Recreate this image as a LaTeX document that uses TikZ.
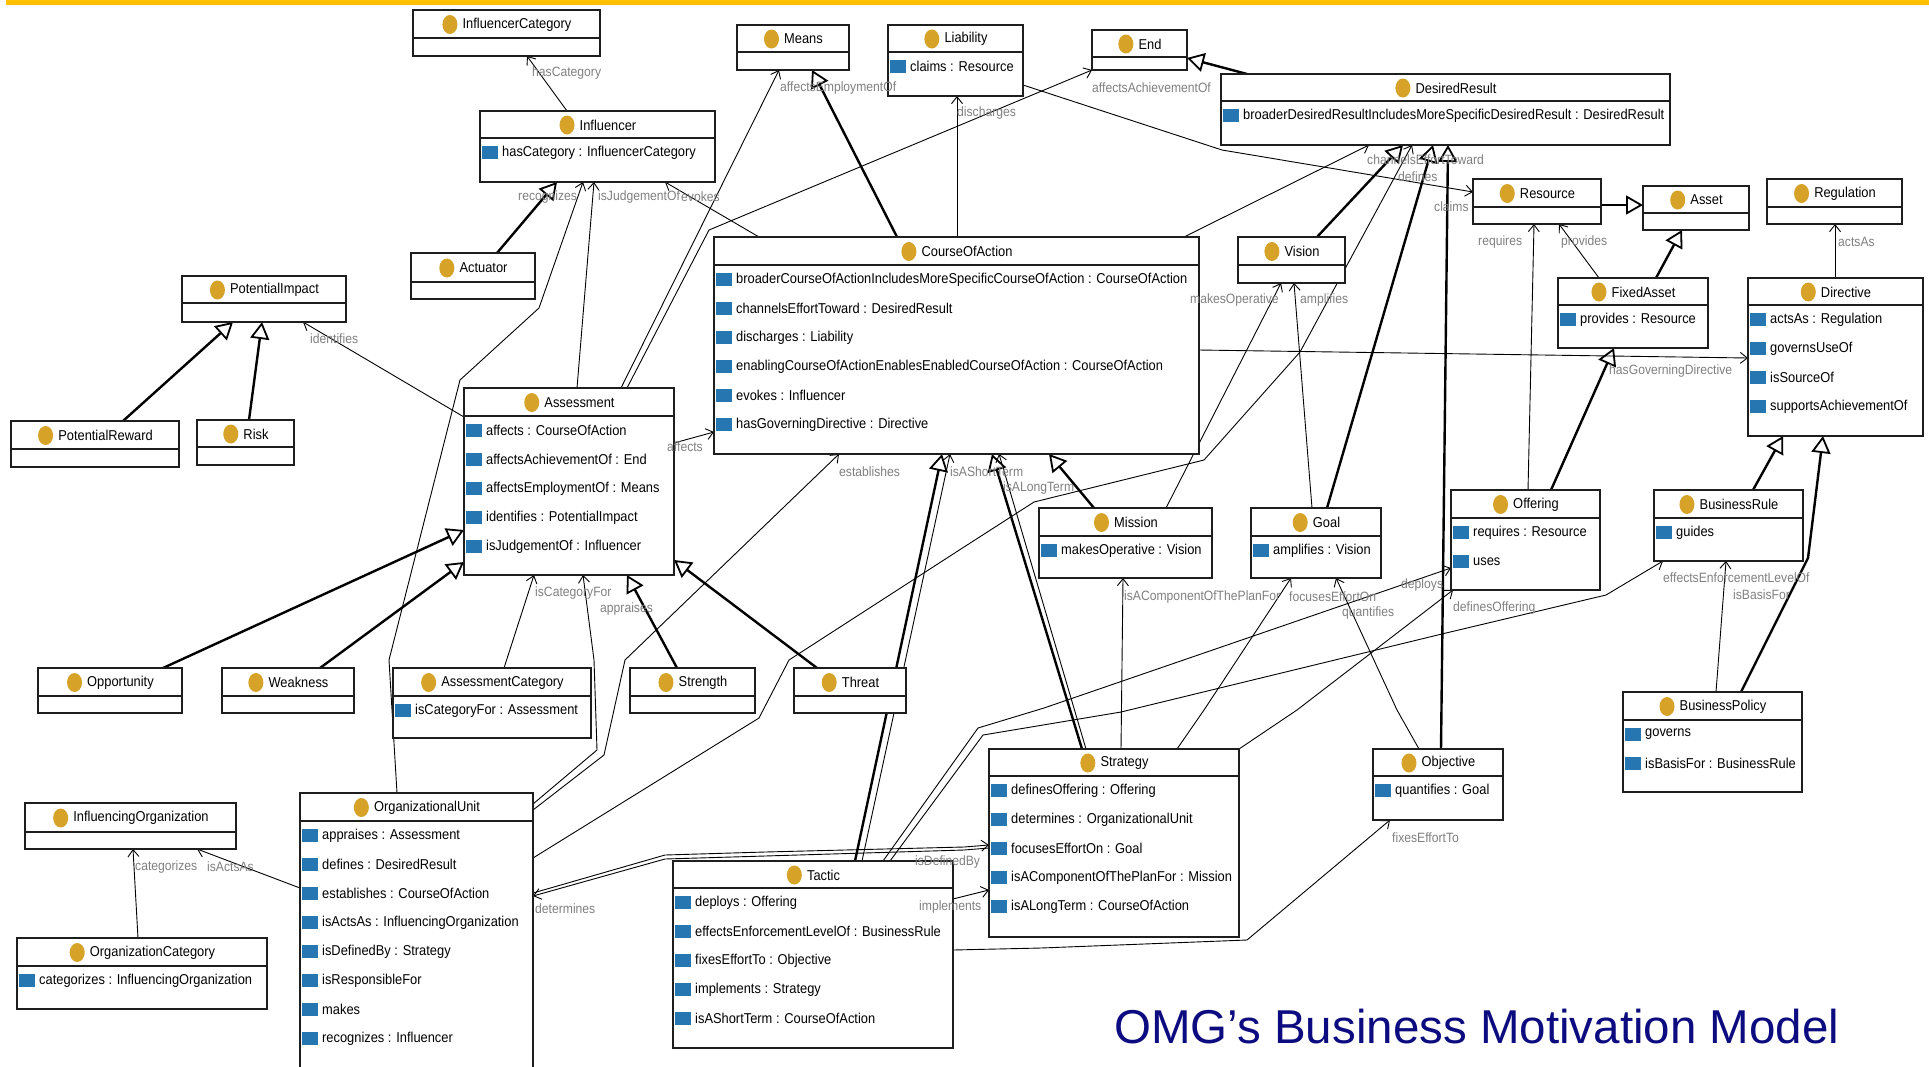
\documentclass[tikz,border=0pt]{standalone}
\usepackage{fontspec}
\setmainfont{Liberation Sans}
\newfontfamily\umlf[FakeStretch=0.9]{Liberation Sans}
\usetikzlibrary{arrows.meta}
\pgfdeclarelayer{back}
\pgfdeclarelayer{conn}
\pgfsetlayers{back,conn,main}
\definecolor{goldc}{RGB}{214,162,40}
\definecolor{attrblue}{RGB}{38,118,178}
\definecolor{lblgray}{RGB}{128,128,128}
\definecolor{navyc}{RGB}{12,12,128}
\definecolor{bandc}{RGB}{255,192,0}
\definecolor{edgec}{RGB}{30,30,30}
\tikzset{
  clsbox/.style={draw=edgec, line width=1.4pt, fill=white, inner sep=0pt, outer sep=0pt},
  clsedge/.style={draw=edgec, line width=1.4pt},
  clsname/.style={font=\umlf\fontsize{14.3}{16}\selectfont, inner sep=0pt},
  attrtext/.style={font=\umlf\fontsize{14.3}{16}\selectfont, inner sep=0pt, anchor=west},
  lbl/.style={font=\umlf\fontsize{13.5}{15}\selectfont, text=lblgray, inner sep=0pt, anchor=west},
  gen/.style={draw=black, line width=2.4pt, line join=round, -{Triangle[length=17pt,width=19pt,fill=white,line width=1.8pt]}},
  assoc/.style={draw=black, line width=0.9pt, line join=round, -{Straight Barb[length=7pt,width=11pt,line width=0.9pt]}},
}
\newcommand\ucls[7]{%
  \pgfmathsetmacro\uw{#4-#2}\pgfmathsetmacro\uh{#5-#3}%
  \pgfmathsetmacro\ucx{(#2+#4)/2+10.5}\pgfmathsetmacro\ucy{(#3+#6)/2+0.5}%
  \node[clsbox, minimum width=\uw pt, minimum height=\uh pt, anchor=north west] (#1) at (#2,#3) {};%
  \draw[clsedge] (#2,#6) -- (#4,#6);%
  \node[clsname] (#1-n) at (\ucx,\ucy) {#7};%
  \fill[goldc] ([xshift=-12.5pt]#1-n.west) ellipse (7.5pt and 9.5pt);%
}
\newcommand\uattr[5]{%
  \pgfmathsetmacro\uay{#3+14.5+29*#4}%
  \fill[attrblue] (#2+1.5,\uay-6.5) rectangle (#2+18,\uay+6.5);%
  \node[attrtext] (#1-a#4) at (#2+22,\uay) {#5};%
}
\begin{document}
\begin{tikzpicture}[x=1pt,y=-1pt]
\path[use as bounding box] (0,0) rectangle (1929,1066);
\clip (0,0) rectangle (1929,1066);
\begin{pgfonlayer}{back}
\fill[white] (0,0) rectangle (1929,1066);
\fill[bandc] (6,0) rectangle (1929,4.5);
\end{pgfonlayer}

% ---------- classes
\ucls{IC}{413}{10}{600}{56}{38}{InfluencerCategory}
\ucls{Means}{737}{25}{849}{70}{52}{Means}
\ucls{Liability}{888}{25}{1023}{96}{52}{Liability}
\ucls{End}{1092}{30}{1187}{70}{57}{End}
\ucls{DR}{1221}{74}{1670}{145}{101}{DesiredResult}
\ucls{Influencer}{480}{111}{715}{182}{138}{Influencer}
\ucls{Actuator}{411}{253}{535}{299}{282}{Actuator}
\ucls{PotentialImpact}{182}{276}{346}{322}{303}{PotentialImpact}
\ucls{PotentialReward}{11}{421}{179}{467}{449}{PotentialReward}
\ucls{Risk}{197}{420}{294}{465}{447}{Risk}
\ucls{Assessment}{464}{388}{674}{575}{416}{Assessment}
\ucls{CoA}{714}{237}{1199}{454}{265}{CourseOfAction}
\ucls{Vision}{1238}{237}{1345}{283}{265}{Vision}
\ucls{Resource}{1473}{179}{1601}{224}{207}{Resource}
\ucls{Asset}{1643}{186}{1749}{230}{213}{Asset}
\ucls{Regulation}{1767}{179}{1902}{224}{207}{Regulation}
\ucls{FixedAsset}{1558}{278}{1708}{348}{305}{FixedAsset}
\ucls{Directive}{1748}{278}{1923}{436}{305}{Directive}
\ucls{Mission}{1039}{508}{1212}{578}{536}{Mission}
\ucls{Goal}{1251}{508}{1381}{578}{536}{Goal}
\ucls{Offering}{1451}{490}{1600}{590}{518}{Offering}
\ucls{BR}{1654}{490}{1803}{561}{518}{BusinessRule}
\ucls{BP}{1623}{692}{1802}{792}{720}{BusinessPolicy}
\ucls{Objective}{1373}{749}{1503}{820}{776}{Objective}
\ucls{Strategy}{989}{749}{1239}{937}{776}{Strategy}
\ucls{Tactic}{673}{861}{953}{1048}{888}{Tactic}
\ucls{OU}{300}{793}{533}{1080}{821}{OrganizationalUnit}
\ucls{IO}{25}{803}{236}{849}{832}{InfluencingOrganization}
\ucls{OC}{17}{938}{267}{1009}{966}{OrganizationCategory}
\ucls{Opportunity}{38}{668}{182}{713}{696}{Opportunity}
\ucls{Weakness}{222}{668}{354}{713}{696}{Weakness}
\ucls{AC}{393}{668}{591}{738}{696}{AssessmentCategory}
\ucls{Strength}{630}{668}{755}{713}{696}{Strength}
\ucls{Threat}{794}{668}{906}{713}{696}{Threat}

% ---------- attributes
\uattr{Liability}{888}{52}{0}{claims : Resource}
\uattr{DR}{1221}{101}{0}{broaderDesiredResultIncludesMoreSpecificDesiredResult : DesiredResult}
\uattr{Influencer}{480}{138}{0}{hasCategory : InfluencerCategory}
\uattr{Assessment}{464}{416}{0}{affects : CourseOfAction}
\uattr{Assessment}{464}{416}{1}{affectsAchievementOf : End}
\uattr{Assessment}{464}{416}{2}{affectsEmploymentOf : Means}
\uattr{Assessment}{464}{416}{3}{identifies : PotentialImpact}
\uattr{Assessment}{464}{416}{4}{isJudgementOf : Influencer}
\uattr{CoA}{714}{265}{0}{broaderCourseOfActionIncludesMoreSpecificCourseOfAction : CourseOfAction}
\uattr{CoA}{714}{265}{1}{channelsEffortToward : DesiredResult}
\uattr{CoA}{714}{265}{2}{discharges : Liability}
\uattr{CoA}{714}{265}{3}{enablingCourseOfActionEnablesEnabledCourseOfAction : CourseOfAction}
\uattr{CoA}{714}{265}{4}{evokes : Influencer}
\uattr{CoA}{714}{265}{5}{hasGoverningDirective : Directive}
\uattr{FixedAsset}{1558}{305}{0}{provides : Resource}
\uattr{Directive}{1748}{305}{0}{actsAs : Regulation}
\uattr{Directive}{1748}{305}{1}{governsUseOf}
\uattr{Directive}{1748}{305}{2}{isSourceOf}
\uattr{Directive}{1748}{305}{3}{supportsAchievementOf}
\uattr{Mission}{1039}{536}{0}{makesOperative : Vision}
\uattr{Goal}{1251}{536}{0}{amplifies : Vision}
\uattr{Offering}{1451}{518}{0}{requires : Resource}
\uattr{Offering}{1451}{518}{1}{uses}
\uattr{BR}{1654}{518}{0}{guides}
\uattr{BP}{1623}{720}{0}{governs}
\uattr{BP}{1623}{720}{1}{isBasisFor : BusinessRule}
\uattr{Objective}{1373}{776}{0}{quantifies : Goal}
\uattr{Strategy}{989}{776}{0}{definesOffering : Offering}
\uattr{Strategy}{989}{776}{1}{determines : OrganizationalUnit}
\uattr{Strategy}{989}{776}{2}{focusesEffortOn : Goal}
\uattr{Strategy}{989}{776}{3}{isAComponentOfThePlanFor : Mission}
\uattr{Strategy}{989}{776}{4}{isALongTerm : CourseOfAction}
\uattr{Tactic}{673}{888}{0}{deploys : Offering}
\uattr{Tactic}{673}{888}{1}{effectsEnforcementLevelOf : BusinessRule}
\uattr{Tactic}{673}{888}{2}{fixesEffortTo : Objective}
\uattr{Tactic}{673}{888}{3}{implements : Strategy}
\uattr{Tactic}{673}{888}{4}{isAShortTerm : CourseOfAction}
\uattr{OU}{300}{821}{0}{appraises : Assessment}
\uattr{OU}{300}{821}{1}{defines : DesiredResult}
\uattr{OU}{300}{821}{2}{establishes : CourseOfAction}
\uattr{OU}{300}{821}{3}{isActsAs : InfluencingOrganization}
\uattr{OU}{300}{821}{4}{isDefinedBy : Strategy}
\uattr{OU}{300}{821}{5}{isResponsibleFor}
\uattr{OU}{300}{821}{6}{makes}
\uattr{OU}{300}{821}{7}{recognizes : Influencer}
\uattr{AC}{393}{696}{0}{isCategoryFor : Assessment}
\uattr{OC}{17}{966}{0}{categorizes : InfluencingOrganization}

\begin{pgfonlayer}{conn}
% ---------- generalizations
\draw[gen] ([xshift=86pt]Actuator.north west) -- ([xshift=77pt]Influencer.south west);
\draw[gen] ([xshift=112pt]PotentialReward.north west) -- ([xshift=51pt]PotentialImpact.south west);
\draw[gen] ([xshift=52pt]Risk.north west) -- ([xshift=80pt]PotentialImpact.south west);
\draw[gen] ([xshift=125pt]Opportunity.north west) -- ([yshift=-142pt]Assessment.north west);
\draw[gen] ([xshift=98pt]Weakness.north west) -- ([yshift=-174pt]Assessment.north west);
\draw[gen] ([xshift=47pt]Strength.north west) -- ([xshift=163pt]Assessment.south west);
\draw[gen] ([xshift=23pt]Threat.north west) -- ([yshift=-172pt]Assessment.north east);
\draw[gen] ([xshift=183pt]CoA.north west) -- ([xshift=75pt]Means.south west);
\draw[gen] ([xshift=26pt]DR.north west) -- ([yshift=-28pt]End.north east);
\draw[gen] ([xshift=79pt]Vision.north west) -- ([xshift=182pt]DR.south west);
\draw[gen] ([xshift=76pt]Goal.north west) -- ([xshift=212pt]DR.south west);
\draw[gen] ([xshift=68pt]Objective.north west) -- ([xshift=227pt]DR.south west);
\draw[gen] ([xshift=55pt]Mission.north west) -- ([xshift=335pt]CoA.south west);
\draw[gen] ([xshift=93pt]Strategy.north west) -- ([xshift=278pt]CoA.south west);
\draw[gen] ([xshift=182pt]Tactic.north west) -- ([xshift=228pt]CoA.south west);
\draw[gen] ([yshift=-26pt]Resource.north east) -- ([yshift=-19pt]Asset.north west);
\draw[gen] ([xshift=98pt]FixedAsset.north west) -- ([xshift=39pt]Asset.south west);
\draw[gen] ([xshift=100pt]Offering.north west) -- ([xshift=56pt]FixedAsset.south west);
\draw[gen] ([xshift=99pt]BR.north west) -- ([xshift=35pt]Directive.south west);
\draw[gen] ([xshift=118pt]BP.north west) -- (1808,558) -- ([xshift=75pt]Directive.south west);

% ---------- associations
\draw[assoc] ([xshift=87pt]Influencer.north west) -- ([xshift=114pt]IC.south west);
\draw[assoc] ([xshift=113pt]Assessment.north west) -- ([xshift=114pt]Influencer.south west);
\draw[assoc] ([xshift=97pt]OU.north west) -- (389,660) -- (460,380) -- (539,308) -- ([xshift=103pt]Influencer.south west);
\draw[assoc] ([xshift=45pt]CoA.north west) -- ([xshift=185pt]Influencer.south west);
\draw[assoc] ([xshift=157pt]Assessment.north west) -- ([xshift=42pt]Means.south west);
\draw[assoc] ([xshift=163pt]Assessment.north west) -- (709,230) -- (End.south west);
\draw[assoc] ([yshift=-55pt]Assessment.north east) -- ([yshift=-195pt]CoA.north west);
\draw[assoc] ([yshift=-29pt]Assessment.north west) -- ([xshift=121pt]PotentialImpact.south west);
\draw[assoc] ([yshift=-60pt]Liability.north east) -- (1222,150) -- ([yshift=-13pt]Resource.north west);
\draw[assoc] ([xshift=243pt]CoA.north west) -- ([xshift=69pt]Liability.south west);
\draw[assoc] ([xshift=470pt]CoA.north west) -- ([xshift=148pt]DR.south west);
\draw[assoc] ([yshift=-113pt]CoA.north east) -- ([yshift=-80pt]Directive.north west);
\draw[assoc] ([xshift=127pt]Mission.north west) -- ([xshift=43pt]Vision.south west);
\draw[assoc] ([xshift=61pt]Goal.north west) -- ([xshift=56pt]Vision.south west);
\draw[assoc] ([yshift=-65pt]OU.north east) -- (759,718) -- (789,660) -- (964,547) -- (1034,502) -- (1204,460) -- (1300,352) -- ([xshift=191pt]DR.south west);
\draw[assoc] ([xshift=132pt]Strategy.north west) -- ([xshift=84pt]Mission.south west);
\draw[assoc] ([xshift=188pt]Strategy.north west) -- (1204,710) -- ([xshift=40pt]Goal.south west);
\draw[assoc] ([xshift=46pt]Objective.north west) -- (1397,710) -- ([xshift=85pt]Goal.south west);
\draw[assoc] ([xshift=210pt]Tactic.north west) -- (978,728) -- (1044,708) -- ([yshift=-78pt]Offering.north west);
\draw[assoc] ([xshift=217pt]Tactic.north west) -- (983,735) -- (1121,712) -- (1446,633) -- (1606,595) -- ([xshift=9pt]BR.south west);
\draw[assoc] ([yshift=-89pt]Tactic.north east) -- (1041,948) -- (1247,940) -- ([xshift=17pt]Objective.south west);
\draw[assoc] ([yshift=-38pt]Tactic.north east) -- ([yshift=-141pt]Strategy.north west);
\draw[assoc] ([yshift=-100pt]OU.north east) -- (665,855) -- (765,852) -- (964,847) -- ([yshift=-96pt]Strategy.north west);
\draw[assoc] ([yshift=-99pt]Strategy.north west) -- (964,850) -- (765,856) -- (665,859) -- ([yshift=-103pt]OU.north east);
\draw[assoc] ([yshift=-17pt]OU.north east) -- (604,755) -- (625,660) -- ([xshift=125pt]CoA.south west);
\draw[assoc] ([yshift=-11pt]OU.north east) -- (597,750) -- (594,660) -- ([xshift=119pt]Assessment.south west);
\draw[assoc] ([xshift=111pt]AC.north west) -- ([xshift=70pt]Assessment.south west);
\draw[assoc] (Strategy.north east) -- (1297,710) -- ([xshift=2pt]Offering.south west);
\draw[assoc] ([xshift=77pt]Offering.north west) -- ([xshift=61pt]Resource.south west);
\draw[assoc] ([xshift=41pt]FixedAsset.north west) -- ([xshift=86pt]Resource.south west);
\draw[assoc] ([xshift=87pt]Directive.north west) -- ([xshift=68pt]Regulation.south west);
\draw[assoc] ([xshift=93pt]BP.north west) -- ([xshift=72pt]BR.south west);
\draw[assoc] ([xshift=121pt]OC.north west) -- ([xshift=108pt]IO.south west);
\draw[assoc] ([yshift=-95pt]OU.north west) -- ([xshift=172pt]IO.south west);
\draw[assoc] ([xshift=189pt]Tactic.north west) -- ([xshift=236pt]CoA.south west);
\draw[assoc] ([xshift=97pt]Strategy.north west) -- ([xshift=285pt]CoA.south west);
\end{pgfonlayer}

% ---------- role labels (nudged apart where the reference stacks them)
\node[lbl] (l1) at (532,73) {hasCategory};
\node[lbl] (l2) at (518,197) {recognizes};
\node[lbl] (l3) at (598,197) {isJudgementOf};
\node[lbl] (l4) at (681,197) {evokes};
\node[lbl] (l5) at (780,88) {affectsEmploymentOf};
\node[lbl] (l6) at (1092,88) {affectsAchievementOf};
\node[lbl] (l7) at (667,447) {affects};
\node[lbl] (l8) at (310,339) {identifies};
\node[lbl] (l9) at (1434,207) {claims};
\node[lbl] (l10) at (957,113) {discharges};
\node[lbl] (l11) at (1367,160) {channelsEffortToward};
\node[lbl] (l12) at (1398,177) {defines};
\node[lbl] (l13) at (1609,371) {hasGoverningDirective};
\node[lbl] (l14) at (1190,300) {makesOperative};
\node[lbl] (l15) at (1300,300) {amplifies};
\node[lbl] (l16) at (1124,597) {isAComponentOfThePlanFor};
\node[lbl] (l17) at (1289,597) {focusesEffortOn};
\node[lbl] (l18) at (1342,613) {quantifies};
\node[lbl] (l19) at (1401,585) {deploys};
\node[lbl] (l20) at (1663,578) {effectsEnforcementLevelOf};
\node[lbl] (l21) at (1733,595) {isBasisFor};
\node[lbl] (l22) at (1392,838) {fixesEffortTo};
\node[lbl] (l23) at (919,907) {implements};
\node[lbl] (l24) at (915,862) {isDefinedBy};
\node[lbl] (l25) at (535,909) {determines};
\node[lbl] (l26) at (839,472) {establishes};
\node[lbl] (l27) at (600,609) {appraises};
\node[lbl] (l28) at (535,593) {isCategoryFor};
\node[lbl] (l29) at (1453,608) {definesOffering};
\node[lbl] (l30) at (1478,242) {requires};
\node[lbl] (l31) at (1561,242) {provides};
\node[lbl] (l32) at (1838,242) {actsAs};
\node[lbl] (l33) at (135,867) {categorizes};
\node[lbl] (l34) at (207,867) {isActsAs};
\node[lbl] (l35) at (950,472) {isAShortTerm};
\node[lbl] (l36) at (1003,488) {isALongTerm};

% ---------- title
\node[anchor=base west, inner sep=0pt, font=\fontsize{47.5}{52}\selectfont, text=navyc] (title) at (1114,1043) {OMG’s Business Motivation Model};
\end{tikzpicture}
\end{document}
